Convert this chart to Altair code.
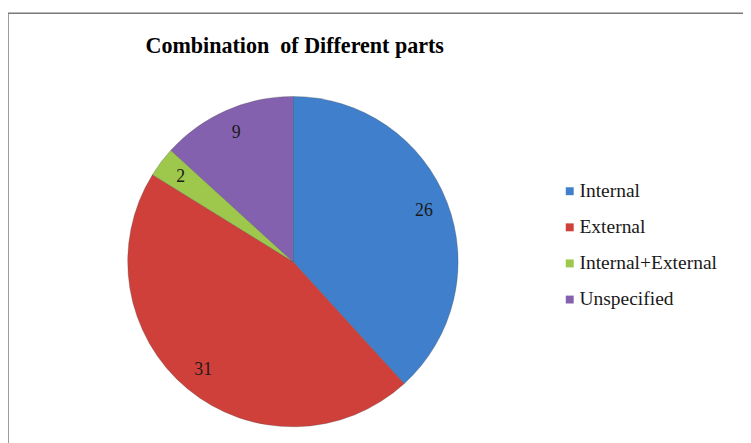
import altair as alt
import pandas as pd

categories = ["Internal", "External", "Internal+External", "Unspecified"]
values = [26, 31, 2, 9]
colors = ["#3f7fcb", "#d0403b", "#9dc84c", "#8461ae"]

df = pd.DataFrame({"part": categories, "count": values, "order": list(range(len(categories)))})
frame_df = pd.DataFrame({"k": [0]})

CX, CY, R = 288, 254, 167

base = alt.Chart(df).encode(
    theta=alt.Theta("count:Q", stack=True),
    order=alt.Order("order:Q"),
)

pie = base.mark_arc(outerRadius=R, stroke="#4a4a4a", strokeWidth=0.6, strokeOpacity=0.5).encode(
    x=alt.value(CX),
    y=alt.value(CY),
    color=alt.Color(
        "part:N",
        scale=alt.Scale(domain=categories, range=colors),
        sort=categories,
        legend=alt.Legend(
            title=None,
            orient="none",
            legendX=558,
            legendY=173,
            symbolType="square",
            symbolSize=64,
            symbolStrokeWidth=0,
            labelFont="Liberation Serif",
            labelFontSize=19.7,
            labelColor="#1a1a1a",
            labelOffset=0,
            rowPadding=15.5,
            labelLimit=300,
        ),
    ),
)

labels = base.mark_text(radius=142, font="Liberation Serif", fontSize=18, color="#1a1a1a").encode(
    x=alt.value(CX),
    y=alt.value(CY),
    text=alt.Text("count:Q"),
)

frame = alt.Chart(frame_df).mark_rect(fill=None, stroke="#7a7a7a", strokeWidth=1.5).encode(
    x=alt.value(0), x2=alt.value(760), y=alt.value(3), y2=alt.value(500)
)

chart = alt.layer(frame, pie, labels).properties(
    width=743,
    height=435,
    autosize=alt.AutoSizeParams(type="none"),
    padding=0,
    title=alt.TitleParams(
        "Combination\u00a0 of Different parts",
        font="Liberation Serif",
        fontSize=22.3,
        fontWeight="bold",
        color="#000000",
        anchor="start",
        frame="group",
        baseline="top",
        dx=139,
        dy=47,
        offset=0,
    ),
).configure_view(stroke=None)

chart.save("out.html", embed_options={"renderer": "svg", "actions": False})
